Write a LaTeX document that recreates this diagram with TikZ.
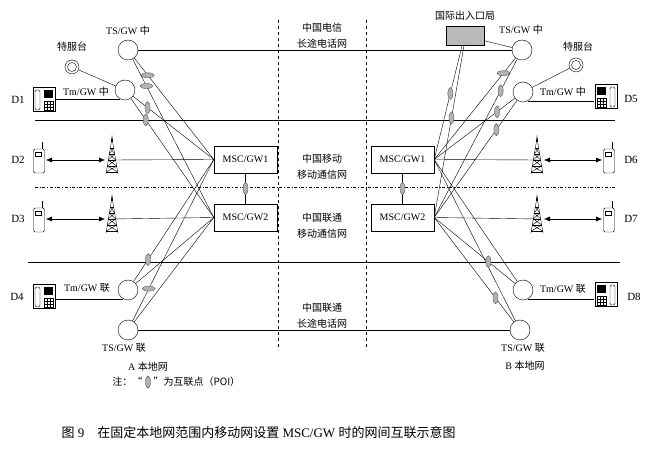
\documentclass[tikz,border=0pt]{standalone}
\usepackage{fontspec}
\setmainfont{Liberation Serif}
\newfontfamily\cjk{Noto Sans CJK SC}
\usetikzlibrary{shapes.geometric,arrows.meta}
\tikzset{stn/.style={draw,circle,minimum size=20pt,inner sep=0pt}}
\tikzset{msc/.style={draw,fill=white,minimum width=63pt,minimum height=27pt,inner sep=0pt}}
\tikzset{poiv/.style={draw=gray!70!black,fill=gray!60,ellipse,minimum width=5pt,minimum height=12pt,inner sep=0pt}}
\tikzset{poih/.style={draw=gray!70!black,fill=gray!60,ellipse,minimum width=13pt,minimum height=5pt,inner sep=0pt}}
\tikzset{dbl/.style={{Latex[length=6pt,width=5pt]}-{Latex[length=6pt,width=5pt]}}}
\tikzset{deskphone/.pic={
    \draw[fill=white,line width=1pt] (-11,-12) rectangle (11,12);
    \draw[rounded corners=1.5pt] (-9,-10) rectangle (-4,10);
    \fill (0,-10) rectangle (9,-2);
    \foreach \r in {1,4,7} {\foreach \c in {0,3,6} {\draw (\c,\r) rectangle +(3,3);}}
}}
\tikzset{mobile/.pic={
    \draw[fill=white,rounded corners=1.5pt] (-5.5,-11) rectangle (5.5,13);
    \draw (-3.5,-8) rectangle (2,-4);
    \draw (3,-11) -- (3,-18);
}}
\tikzset{tower/.pic={
    \fill (0,-25) -- (-1,-18) -- (1,-18) -- cycle;
    \draw (0,-22) -- (-6,14) (0,-22) -- (6,14);
    \foreach \h in {-12,-6,0,6,12} {\draw ({-0.1667*(\h+22)},\h) -- ({0.1667*(\h+22)},\h);}
    \foreach \h in {-12,-6,0,6} {\draw ({-0.1667*(\h+22)},\h) -- ({0.1667*(\h+28)},\h+6)
        ({0.1667*(\h+22)},\h) -- ({-0.1667*(\h+28)},\h+6);}
}}

\begin{document}
\begin{tikzpicture}[x=1pt,y=-1pt,font=\fontsize{10}{12}\selectfont]
    \useasboundingbox (0,0) rectangle (649,462);
    % area borders
    \draw[dashed] (278,20) -- (278,350);
    \draw[dashed] (366,20) -- (366,350);
    \draw (35,120) -- (615,120);
    \draw[dash dot] (35,187) -- (615,187);
    \draw (28,262) -- (620,262);
    % switches and stations
    \node[stn] (tsA) at (128,50) {};
    \node[stn] (tmA) at (125,90) {};
    \node[stn] (tmC) at (128,290) {};
    \node[stn] (tsC) at (128,330) {};
    \node[stn] (tsB) at (522,50) {};
    \node[stn] (tmB) at (523,92) {};
    \node[stn] (tmD) at (523,290) {};
    \node[stn] (tsD) at (520,330) {};
    \node[draw,circle,minimum size=14pt,inner sep=0pt] (svA) at (72,67) {};
    \draw (svA) circle (4.5pt);
    \node[draw,circle,minimum size=14pt,inner sep=0pt] (svB) at (576,65) {};
    \draw (svB) circle (4.5pt);
    \node[draw,fill=gray!55,minimum width=38pt,minimum height=19pt,inner sep=0pt] (gw) at (465,36) {};
    \node[msc] (m1A) at (245.5,159.5) {MSC/GW1};
    \node[msc] (m2A) at (245.5,217.5) {MSC/GW2};
    \node[msc] (m1B) at (402.5,159.5) {MSC/GW1};
    \node[msc] (m2B) at (402.5,217.5) {MSC/GW2};
    % labels
    \node (tsAl) at (128,31) {TS/GW {\cjk 中}};
    \node (svAl) at (72,47) {\cjk 特服台};
    \node (tmAl) at (86,92) {Tm/GW {\cjk 中}};
    \node (tmCl) at (87,288) {Tm/GW {\cjk 联}};
    \node (tsCl) at (124,348) {TS/GW {\cjk 联}};
    \node (tsBl) at (521,30) {TS/GW {\cjk 中}};
    \node (svBl) at (578,47) {\cjk 特服台};
    \node (gwl) at (465,16) {\cjk 国际出入口局};
    \node (tmBl) at (563,92) {Tm/GW {\cjk 中}};
    \node (tmDl) at (563,289) {Tm/GW {\cjk 联}};
    \node (tsDl) at (523,348) {TS/GW {\cjk 联}};
    \node[align=center,font=\cjk\fontsize{10}{16}\selectfont] (ctl) at (322,36) {中国电信\\长途电话网};
    \node[align=center,font=\cjk\fontsize{10}{16}\selectfont] (cml) at (322,167) {中国移动\\移动通信网};
    \node[align=center,font=\cjk\fontsize{10}{16}\selectfont] (cul) at (322,226) {中国联通\\移动通信网};
    \node[align=center,font=\cjk\fontsize{10}{16}\selectfont] (cll) at (322,316) {中国联通\\长途电话网};
    \node (netA) at (148,367) {A {\cjk 本地网}};
    \node[anchor=east,font=\cjk\fontsize{10}{12}\selectfont] (nt1) at (146,382) {注：“};
    \node[poiv] (ntp) at (148,382) {};
    \node[anchor=west,font=\cjk\fontsize{10}{12}\selectfont] (nt2) at (150,382) {”为互联点（POI）};
    \node (netB) at (525,366) {B {\cjk 本地网}};
    \node[anchor=west,font=\fontsize{13}{15}\selectfont] (cap) at (58,433)
        {{\cjk 图} 9\quad{\cjk 在固定本地网范围内移动网设置} MSC/GW {\cjk 时的网间互联示意图}};
    % terminals
    \foreach \n/\y in {1/100,4/297} {\coordinate (ph\n) at (44,\y); \pic at (ph\n) {deskphone};}
    \foreach \n/\y in {5/97,8/295} {\coordinate (ph\n) at (606,\y); \pic[xscale=-1] at (ph\n) {deskphone};}
    \foreach \n/\y in {2/160,3/219} {
        \coordinate (mob\n) at (39,\y); \coordinate (tw\n) at (112,\y);
        \draw[dbl] ([xshift=7]mob\n) -- ([xshift=-7]tw\n);
    }
    \foreach \n/\y in {6/160,7/219} {
        \coordinate (mob\n) at (609,\y); \coordinate (tw\n) at (537,\y);
        \draw[dbl] ([xshift=-7]mob\n) -- ([xshift=7]tw\n);
    }
    \draw (tw2) -- (m1A.west);
    \draw (tw3) -- (m2A.west);
    \draw (tw6) -- (m1B.east);
    \draw (tw7) -- (m2B.east);
    \foreach \n in {2,3,6,7} {\pic at (mob\n) {mobile}; \pic at (tw\n) {tower};}
    \node[font=\fontsize{11}{13}\selectfont] (d1) at (18,100) {D1};
    \node[font=\fontsize{11}{13}\selectfont] (d2) at (18,160) {D2};
    \node[font=\fontsize{11}{13}\selectfont] (d3) at (18,219) {D3};
    \node[font=\fontsize{11}{13}\selectfont] (d4) at (17,297) {D4};
    \node[font=\fontsize{11}{13}\selectfont] (d5) at (631,99) {D5};
    \node[font=\fontsize{11}{13}\selectfont] (d6) at (631,160) {D6};
    \node[font=\fontsize{11}{13}\selectfont] (d7) at (631,219) {D7};
    \node[font=\fontsize{11}{13}\selectfont] (d8) at (634,297) {D8};
    % trunk lines
    \coordinate (phe1) at (56,0);
    \coordinate (phe5) at (594,0);
    \draw (tmA.240) -- (tmA.240 -| phe1);
    \draw (tmC.240) -- (tmC.240 -| phe1);
    \draw (tmB.300) -- (tmB.300 -| phe5);
    \draw (tmD.300) -- (tmD.300 -| phe5);
    \draw (svA) -- (tmA);
    \draw (svB) -- (tmB);
    \draw (tsA) -- (tsB);
    \draw (tsC) -- (tsD);
    \draw (gw) -- (tsB);
    % interconnections with POI
    \draw (tsA) -- (m1A.west) node[poih,pos=0.17] {};
    \draw (tsA) -- (m2A.west) node[poih,pos=0.17] {};
    \draw (tmA) -- (m1A.west) node[poiv,pos=0.18] {};
    \draw (tmA) -- (m2A.west) node[poiv,pos=0.18] {};
    \draw (tmC) -- (m1A.west) node[poiv,pos=0.18] {};
    \draw (tmC) -- (m2A.west);
    \draw (tsC) -- (m1A.west) node[poih,pos=0.2] {};
    \draw (tsC) -- (m2A.west);
    \draw (m1A) -- (m2A) node[poiv,midway] {};
    \draw (m1B) -- (m2B) node[poiv,midway] {};
    \draw ([xshift=-3]gw.south) -- (m1B.east) node[poiv,pos=0.42] {};
    \draw ([xshift=-1]gw.south) -- (m2B.east) node[poiv,pos=0.42] {};
    \draw (tsB) -- (m1B.east) node[poih,pos=0.15] {};
    \draw (tsB) -- (m2B.east) node[poiv,pos=0.2] {};
    \draw (tmB) -- (m1B.east) node[poiv,pos=0.22] {};
    \draw (tmB) -- (m2B.east) node[poiv,pos=0.25] {};
    \draw (m1B.east) -- (tmD);
    \draw (m1B.east) -- (tsD);
    \draw (m2B.east) -- (tmD) node[poiv,pos=0.67] {};
    \draw (m2B.east) -- (tsD) node[poiv,pos=0.77] {};
\end{tikzpicture}
\end{document}
